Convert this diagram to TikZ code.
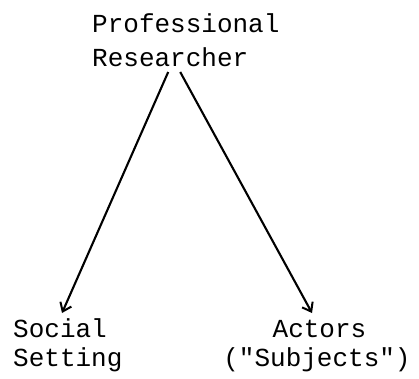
\documentclass[tikz,border=0pt]{standalone}
\usepackage{fontspec}
\setmonofont{Liberation Mono}
\usetikzlibrary{arrows.meta}
\tikzset{
  lbl/.style={font=\ttfamily\fontsize{26}{26}\selectfont, inner sep=0pt, text=black},
  conn/.style={line width=2.1pt, -{Straight Barb[length=8pt,width=12pt,line width=2pt]}}
}
\begin{document}
\begin{tikzpicture}[x=1pt,y=1pt]
\useasboundingbox (0,0) rectangle (419,378);
\node[lbl, anchor=base west] (prof) at (92,345) {Professional};
\node[lbl, anchor=base west] (res) at (92,311) {Researcher};
\node[lbl, anchor=base west] (social) at (13,41) {Social};
\node[lbl, anchor=base west] (setting) at (13,12) {Setting};
\node[lbl, anchor=base] (actors) at (319.5,41) {Actors};
\node[lbl, anchor=base] (subj) at (317,12) {("Subjects")};
\draw[conn] ([xshift=-2pt,yshift=-5pt]res.base) -- ([xshift=2pt,yshift=24pt]social.base);
\draw[conn] ([xshift=10pt,yshift=-5pt]res.base) -- ([xshift=-7.5pt,yshift=24pt]actors.base);
\end{tikzpicture}
\end{document}
